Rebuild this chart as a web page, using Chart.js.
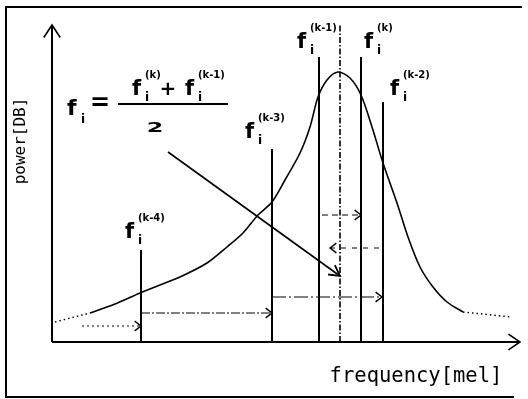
<!DOCTYPE html>
<html><head><meta charset="utf-8">
<script src="https://cdn.jsdelivr.net/npm/chart.js@4/dist/chart.umd.min.js"></script>
<style>html,body{margin:0;padding:0;background:#fff;} #wrap{width:528px;height:399px;position:relative;}</style>
</head><body><div id="wrap"><canvas id="c" width="528" height="399"></canvas></div>
<script>
// ---- data (frequency / power in arbitrary diagram units) ----
const curveX = [38, 63, 88, 108, 128, 155, 175, 191, 206, 220, 233, 248, 258, 266, 275, 286, 298, 309, 320, 331, 345, 356, 368, 381, 395, 411];
const curveY = [29, 38, 49, 57, 65, 79, 95, 109, 127, 140, 162, 189, 215, 245, 262, 270, 264, 247, 215, 179, 139, 105, 75, 55, 40, 30];
const tailLeftX = [3, 38];
const tailLeftY = [20, 29];
const tailRightX = [411, 459];
const tailRightY = [30, 25];

const filterNames = ['(k-4)', '(k-3)', '(k-1)', '(k)', '(k-2)'];
const filterFreq = [89, 220, 267, 309, 331];
const filterTop = [92, 193, 285, 285, 240];
const centerFreq = 288;
const centerTop = 317;

const stepLevel = [16, 29, 45, 127, 94];
const stepFrom = [30, 89, 220, 270, 327];
const stepTo = [89, 220, 330, 309, 278];

const diagFrom = [116, 190];
const diagTo = [288, 66];

const xMax = 468, yMax = 317;

// label anchors ("f" glyph left / baseline) in data units
const labelPos = {
  fx: [73, 193, 245, 312, 338],
  fy: [104, 204, 294, 294, 247]
};
const formulaPos = { x: 15, y: 227 };

// ---- datasets ----
const pts = (xs, ys) => xs.map((x, i) => ({x, y: ys[i]}));
const base = {borderColor: '#000', pointRadius: 0, pointHoverRadius: 0, fill: false, clip: false, tension: 0};
const datasets = [];
// axes
datasets.push({...base, data: pts([0, 0], [0, yMax]), borderWidth: 2, arrowHead: {len: 15, spread: 0.58, width: 1.6}});
datasets.push({...base, data: pts([0, xMax], [0, 0]), borderWidth: 2, arrowHead: {len: 14, spread: 0.6, width: 1.6}});
// spectrum curve
datasets.push({...base, data: pts(curveX, curveY), borderWidth: 1.6, tension: 0.3});
datasets.push({...base, data: pts(tailLeftX, tailLeftY), borderWidth: 1.5, borderDash: [1.5, 3]});
datasets.push({...base, data: pts(tailRightX, tailRightY), borderWidth: 1.5, borderDash: [1.5, 3]});
// filter lines
filterFreq.forEach((f, i) => {
  datasets.push({...base, data: pts([f, f], [0, filterTop[i]]), borderWidth: 2});
});
datasets.push({...base, data: pts([centerFreq, centerFreq], [0, centerTop]), borderWidth: 1.6, borderDash: [6, 2, 1.5, 2]});
// step arrows
const dashes = [[2, 3], [9, 2, 2, 2], [14, 3, 2, 3], [6, 4], [5, 6]];
stepLevel.forEach((lv, i) => {
  datasets.push({...base, data: pts([stepFrom[i], stepTo[i]], [lv, lv]), borderWidth: 1, borderDash: dashes[i],
    arrowHead: {len: 8, spread: 0.65, width: 1.4}});
});
// diagonal arrow
datasets.push({...base, data: pts([diagFrom[0], diagTo[0]], [diagFrom[1], diagTo[1]]), borderWidth: 1.6,
  arrowHead: {len: 12, spread: 0.5, width: 1.8}});

const arrowPlugin = {
  id: 'arrows',
  afterDatasetsDraw(chart) {
    const ctx = chart.ctx;
    chart.data.datasets.forEach((ds, i) => {
      if (!ds.arrowHead) return;
      const p = chart.getDatasetMeta(i).data;
      const a = p[p.length - 2], b = p[p.length - 1];
      const ang = Math.atan2(b.y - a.y, b.x - a.x);
      const L = ds.arrowHead.len, W = ds.arrowHead.spread;
      ctx.save();
      ctx.strokeStyle = '#000'; ctx.lineWidth = ds.arrowHead.width; ctx.setLineDash([]);
      ctx.beginPath();
      ctx.moveTo(b.x - L * Math.cos(ang - W), b.y - L * Math.sin(ang - W));
      ctx.lineTo(b.x, b.y);
      ctx.lineTo(b.x - L * Math.cos(ang + W), b.y - L * Math.sin(ang + W));
      ctx.stroke();
      ctx.restore();
    });
  }
};

const textPlugin = {
  id: 'texts',
  afterDraw(chart) {
    const ctx = chart.ctx;
    const sx = chart.scales.x, sy = chart.scales.y;
    const X = v => sx.getPixelForValue(v), Y = v => sy.getPixelForValue(v);
    ctx.save();
    ctx.fillStyle = '#000'; ctx.strokeStyle = '#000';
    // frame
    ctx.lineWidth = 2;
    ctx.beginPath();
    ctx.moveTo(522, 7); ctx.lineTo(6, 7); ctx.lineTo(6, 397); ctx.lineTo(514, 397);
    ctx.stroke();
    const sym = (fx, fy, sup, subDy) => {
      ctx.textAlign = 'left'; ctx.textBaseline = 'alphabetic';
      ctx.font = 'bold 21px "DejaVu Sans"';
      ctx.fillText('f', fx, fy);
      ctx.font = 'bold 12px "DejaVu Sans"';
      ctx.fillText('i', fx + 13, fy + (subDy || 5));
      if (sup) {
        ctx.font = 'bold 10px "DejaVu Sans"';
        ctx.fillText(sup, fx + 13, fy - 17);
      }
    };
    filterNames.forEach((n, i) => sym(X(labelPos.fx[i]), Y(labelPos.fy[i]), n, 6));
    // formula
    const fx = X(formulaPos.x), fy = Y(formulaPos.y);
    ctx.font = 'bold 22px "DejaVu Sans"'; ctx.textAlign = 'left';
    ctx.fillText('f', fx, fy);
    ctx.font = 'bold 12px "DejaVu Sans"';
    ctx.fillText('i', fx + 14, fy + 8);
    ctx.font = 'bold 24px "DejaVu Sans"';
    ctx.textAlign = 'center'; ctx.textBaseline = 'middle';
    ctx.fillText('=', fx + 33, fy - 11);
    ctx.lineWidth = 2;
    ctx.beginPath(); ctx.moveTo(fx + 51, fy - 11); ctx.lineTo(fx + 161, fy - 11); ctx.stroke();
    ctx.textBaseline = 'alphabetic';
    sym(fx + 65, fy - 20, '(k)', 6);
    ctx.font = 'bold 20px "DejaVu Sans"'; ctx.textAlign = 'center'; ctx.textBaseline = 'middle';
    ctx.fillText('+', fx + 101, fy - 25);
    ctx.textBaseline = 'alphabetic';
    sym(fx + 118, fy - 20, '(k-1)', 6);
    ctx.font = 'bold 17px "DejaVu Sans"'; ctx.textAlign = 'center';
    ctx.save(); ctx.translate(fx + 88, fy + 17); ctx.scale(1.4, 0.85);
    ctx.fillText('2', 0, 0); ctx.restore();
    // axis titles
    ctx.font = '16px "DejaVu Sans Mono"';
    ctx.textAlign = 'center'; ctx.textBaseline = 'middle';
    ctx.save(); ctx.translate(21, 141); ctx.rotate(-Math.PI / 2);
    ctx.fillText('power[DB]', 0, 0); ctx.restore();
    ctx.font = '20.5px "DejaVu Sans Mono"';
    ctx.textBaseline = 'alphabetic';
    ctx.fillText('frequency[mel]', 416, 382);
    ctx.restore();
  }
};

new Chart(document.getElementById('c'), {
  type: 'line',
  data: {datasets},
  options: {
    responsive: false, animation: false, events: [],
    parsing: true,
    layout: {padding: {left: 52, top: 25, right: 8, bottom: 57}},
    plugins: {legend: {display: false}, tooltip: {enabled: false}},
    scales: {
      x: {type: 'linear', min: 0, max: xMax, display: false},
      y: {type: 'linear', min: 0, max: yMax, display: false}
    }
  },
  plugins: [arrowPlugin, textPlugin]
});
</script>
</body></html>
